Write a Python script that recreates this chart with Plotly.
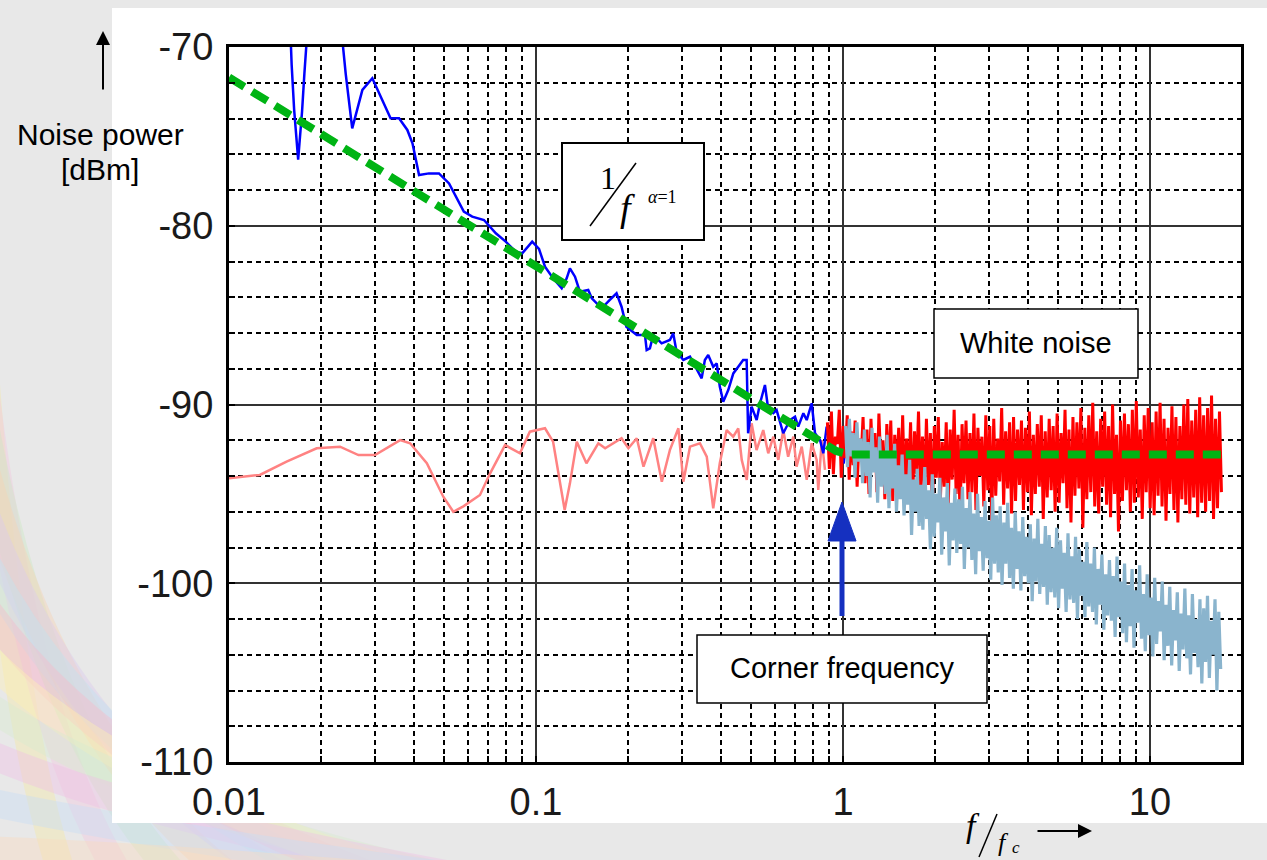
import numpy as np
import plotly.graph_objects as go

# ---------------- data ----------------
# 1/f noise measurement (blue)
blue_f = [0.0158, 0.0160, 0.0163, 0.0166, 0.0168, 0.0170, 0.0173, 0.0176, 0.0181, 0.0200, 0.0225,
          0.0234, 0.0240, 0.0252, 0.0272, 0.0293, 0.0316, 0.0336, 0.0358, 0.0381, 0.0396, 0.0416,
          0.0448, 0.0483, 0.0521, 0.0548, 0.0582, 0.0620, 0.0677, 0.0740, 0.0797, 0.0859, 0.0902,
          0.0972, 0.1023, 0.107, 0.1137, 0.1213, 0.1259, 0.129, 0.134, 0.139, 0.148, 0.152, 0.1636,
          0.174, 0.183, 0.190, 0.197, 0.213, 0.2265, 0.2294, 0.235, 0.241, 0.2566, 0.273, 0.280,
          0.287, 0.302, 0.3175, 0.3337, 0.3465, 0.355, 0.364, 0.378, 0.388, 0.397, 0.4074, 0.423,
          0.4394, 0.456, 0.473, 0.4856, 0.491, 0.504, 0.5234, 0.537, 0.557, 0.5714, 0.593, 0.608,
          0.639, 0.672, 0.698, 0.715, 0.743, 0.762, 0.791, 0.811, 0.842, 0.863, 0.885, 0.918,
          0.965, 0.991, 1.005, 1.015]
blue_db = [-68.5, -71.0, -73.5, -75.0, -76.3, -75.2, -73.6, -71.5, -68.5, -66.0, -67.0,
           -69.6, -71.5, -74.55, -72.4, -71.75, -72.96, -73.99, -73.99, -74.64, -75.39, -77.16,
           -77.07, -77.07, -77.63, -78.37, -79.21, -79.49, -79.68, -80.42, -80.89, -81.45, -81.54,
           -80.89, -81.3, -82.29, -82.94, -83.5, -82.94, -82.38, -82.85, -83.69, -83.59, -84.06, -84.62,
           -84.15, -83.78, -84.53, -85.65, -86.11, -86.11, -86.95, -86.86, -86.11, -86.58, -86.39, -86.02,
           -87.05, -87.51, -87.33, -88.07, -88.54, -87.51, -87.23, -87.89, -87.70, -89.0, -89.84, -89.19,
           -88.26, -87.89, -87.51, -87.51, -91.61, -90.12, -90.87, -89.93, -88.91, -90.31, -90.49, -90.31,
           -91.61, -90.87, -90.68, -91.24, -90.49, -90.87, -89.93, -91.61, -91.99, -92.73, -91.24, -92.73,
           -91.8, -91.61, -93.3, -92.7]

# low-frequency part of the white-noise trace (pink)
pink_f = [0.0100, 0.0126, 0.0154, 0.0193, 0.0230, 0.0264, 0.0299, 0.0361, 0.0389, 0.0441, 0.0499,
          0.0538, 0.0580, 0.0657, 0.0709, 0.0793, 0.0887, 0.0955, 0.107, 0.1137, 0.124, 0.129,
          0.1358, 0.146, 0.1596, 0.168, 0.190, 0.200, 0.213, 0.224, 0.241, 0.257, 0.273, 0.291,
          0.302, 0.3175, 0.342, 0.360, 0.378, 0.397, 0.418, 0.439, 0.456, 0.468, 0.486, 0.504,
          0.523, 0.550, 0.571, 0.593, 0.616, 0.639, 0.663, 0.689, 0.706, 0.734, 0.762, 0.791,
          0.821, 0.831, 0.853, 0.874]
pink_db = [-94.13, -93.94, -93.2, -92.45, -92.36, -92.83, -92.83, -91.99, -92.17, -93.29, -95.16,
           -96.0, -95.7, -95.06, -93.85, -92.27, -92.73, -91.52, -91.33, -92.08, -95.9, -94.41,
           -92.08, -93.29, -92.17, -92.45, -91.89, -92.45, -91.89, -93.48, -91.89, -94.32, -92.55, -91.33,
           -94.32, -92.36, -92.17, -92.92, -95.81, -93.29, -91.43, -91.8, -91.33, -93.1, -94.22, -91.05,
           -92.55, -91.43, -92.73, -91.8, -93.1, -91.43, -92.92, -91.8, -93.48, -92.36, -94.22, -92.17,
           -93.1, -94.78, -91.99, -93.66]

# white noise (red), from f = 0.89 to 17.1 (log-spaced samples)
red_f_start, red_f_end = 0.89, 17.1
red_db = [-91.0, -93.6, -90.4, -93.9, -91.8, -92.2, -90.3, -94.1, -91.2, -93.0,
          -90.6, -94.2, -91.5, -93.4, -90.9, -94.6, -91.9, -93.1, -90.7, -94.4,
          -91.4, -95.0, -90.8, -93.7, -91.6, -94.9, -90.5, -93.5, -92.0, -95.3,
          -91.1, -94.0, -90.9, -95.4, -91.7, -93.8, -91.3, -94.7, -90.6, -95.1,
          -91.9, -94.3, -91.0, -95.6, -91.5, -93.9, -90.4, -94.8, -91.8, -95.2,
          -90.8, -94.5, -91.6, -96.0, -91.2, -94.1, -90.7, -95.5, -92.1, -94.6,
          -91.0, -95.8, -91.4, -94.2, -90.3, -95.0, -91.7, -96.3, -91.1, -94.4,
          -90.9, -95.3, -91.6, -94.9, -90.5, -95.9, -91.3, -94.0, -91.8, -95.7,
          -90.6, -94.8, -91.2, -96.5, -90.8, -95.1, -91.9, -94.3, -90.2, -95.6,
          -91.5, -94.7, -91.0, -96.1, -90.7, -95.4, -91.4, -94.5, -90.9, -95.9,
          -91.3, -94.9, -90.4, -96.2, -91.7, -95.0, -91.1, -94.6, -90.6, -96.4,
          -91.5, -95.2, -90.8, -94.8, -91.2, -96.0, -90.5, -95.5, -91.6, -94.4,
          -90.3, -95.8, -91.4, -96.6, -90.7, -95.1, -91.0, -94.7, -90.2, -96.9,
          -91.3, -95.3, -90.6, -94.9, -89.9, -95.7, -91.5, -96.1, -90.8, -94.6,
          -90.4, -95.6, -91.2, -96.3, -90.0, -95.0, -91.7, -97.1, -90.9, -95.4,
          -90.5, -94.8, -91.1, -96.0, -90.3, -95.5, -89.8, -95.2, -91.4, -96.4,
          -90.6, -94.9, -90.2, -95.8, -91.0, -96.2, -90.4, -95.1, -89.9, -95.7,
          -90.8, -96.5, -91.3, -95.0, -90.1, -95.9, -90.7, -96.6, -91.2, -95.3,
          -90.0, -95.6, -89.7, -96.1, -90.9, -95.2, -90.3, -96.3, -89.6, -95.5,
          -90.6, -96.0, -90.2, -95.4, -89.5, -96.4, -90.8, -95.8, -90.4, -94.9]

# filtered noise (light blue), from f = 1.02 to 17.0 (log-spaced samples)
lb_f_start, lb_f_end = 1.02, 17.0
lb_db = [-91.2, -93.5, -90.8, -92.9, -91.6, -94.1, -91.0, -93.2, -91.9, -94.4,
         -91.4, -94.0, -92.1, -95.2, -91.3, -93.8, -92.4, -95.5, -91.8, -94.6,
         -92.6, -95.0, -91.7, -95.8, -92.9, -94.7, -92.2, -96.0, -93.4, -95.3,
         -92.8, -96.2, -93.9, -95.6, -93.1, -97.3, -94.2, -96.0, -93.6, -96.8,
         -94.5, -97.0, -93.5, -96.4, -94.8, -98.1, -93.9, -97.4, -95.0, -96.6,
         -94.1, -98.4, -95.2, -97.1, -94.4, -99.0, -95.5, -97.6, -94.7, -98.3,
         -95.3, -97.8, -94.6, -99.2, -95.8, -98.0, -94.9, -98.7, -96.1, -99.5,
         -95.0, -98.2, -96.3, -99.3, -95.4, -98.6, -96.5, -99.8, -95.2, -98.9,
         -96.2, -99.4, -95.7, -100.1, -96.6, -98.9, -95.5, -99.7, -96.9, -100.3,
         -96.0, -99.2, -97.1, -100.4, -96.3, -99.6, -97.4, -100.0, -96.7, -101.0,
         -97.5, -99.9, -96.4, -100.6, -97.8, -100.2, -96.8, -101.2, -97.3, -100.5,
         -98.0, -100.8, -96.9, -101.4, -97.6, -100.3, -98.3, -101.6, -97.2, -100.9,
         -98.5, -101.1, -97.4, -102.0, -98.1, -100.7, -98.8, -101.9, -97.7, -101.3,
         -98.9, -101.6, -98.0, -102.3, -99.2, -101.2, -98.4, -102.6, -99.5, -101.8,
         -98.7, -102.1, -99.6, -103.0, -98.5, -101.9, -99.9, -102.8, -98.9, -103.3,
         -100.1, -102.4, -99.2, -103.6, -100.4, -102.2, -99.0, -103.1, -100.6, -103.8,
         -99.5, -102.9, -100.8, -104.1, -99.7, -103.4, -101.0, -102.7, -99.9, -104.3,
         -101.2, -103.5, -100.2, -104.6, -101.5, -103.2, -100.5, -104.9, -101.7, -103.7,
         -100.3, -104.2, -101.8, -105.1, -100.6, -103.9, -102.0, -104.7, -100.9, -105.6,
         -101.4, -104.4, -100.7, -105.3, -102.1, -104.0, -100.9, -106.0, -101.6, -104.8]

# model: 1/f slope + white floor (green dashed)
model_f = [0.01, 0.03, 0.1, 0.3, 0.6, 0.8, 0.95, 1.05, 18.2]
model_db = [-71.7, -76.7, -82.3, -87.3, -90.5, -91.8, -92.6, -92.8, -92.8]

# axis ticks
x_ticks = [0.01, 0.1, 1, 10]
x_ticktext = ["0.01", "0.1", "1", "10"]
y_ticks = [-110, -100, -90, -80, -70]
y_ticktext = ["-110", "-100", "-90", "-80", "-70"]

# ---------------- layout geometry (pixels) ----------------
W, H = 1267, 860
PL, PR, PT, PB = 229, 1241, 47, 762


def X(px):
    return (px - PL) / (PR - PL)


def Y(py):
    return (PB - py) / (PB - PT)


red_f = np.geomspace(red_f_start, red_f_end, len(red_db))
lb_f = np.geomspace(lb_f_start, lb_f_end, len(lb_db))

fig = go.Figure()
fig.add_trace(go.Scatter(x=pink_f, y=pink_db, mode="lines",
                         line=dict(color="#ff8282", width=2.5), hoverinfo="skip"))
fig.add_trace(go.Scatter(x=blue_f, y=blue_db, mode="lines",
                         line=dict(color="#0000ff", width=2.5), hoverinfo="skip"))
fig.add_trace(go.Scatter(x=red_f, y=red_db, mode="lines",
                         line=dict(color="#ff0000", width=3), hoverinfo="skip"))
fig.add_trace(go.Scatter(x=lb_f, y=lb_db, mode="lines",
                         line=dict(color="#8ab4cd", width=3.2), hoverinfo="skip"))
fig.add_trace(go.Scatter(x=model_f, y=model_db, mode="lines",
                         line=dict(color="#00b414", width=8, dash="18px,9px"), hoverinfo="skip"))

shapes = []
# pastel swirl in the background (bottom-left)
swirl_cols = ["#f4eaa6", "#f3c8df", "#cde8c4", "#f7d4b4", "#dccbee", "#c2e4ef",
              "#f6bccb", "#fff1b4", "#d8ecd0", "#f0c2e6", "#c9def5", "#f9dcc0"]
for k, c in enumerate(swirl_cols):
    y0 = 300 + 50 * k
    x1 = 80 + 72 * k
    cx, cy = 10 + 20 * k, 770 + 8 * k
    path = "M %.4f %.4f Q %.4f %.4f %.4f %.4f" % (X(-20), Y(y0), X(cx), Y(cy), X(x1), Y(920))
    shapes.append(dict(type="path", xref="paper", yref="paper", path=path,
                       line=dict(color=c, width=28), opacity=0.42, layer="below"))
# white slide panel
shapes.append(dict(type="rect", xref="paper", yref="paper", x0=X(112), x1=X(1270),
                   y0=Y(8), y1=Y(823), fillcolor="white", line=dict(width=0), layer="below"))
# 1/f box
shapes.append(dict(type="rect", xref="paper", yref="paper", x0=X(562), x1=X(704),
                   y0=Y(143), y1=Y(240), fillcolor="white", line=dict(color="black", width=2),
                   layer="above"))
shapes.append(dict(type="line", xref="paper", yref="paper", x0=X(590), y0=Y(226),
                   x1=X(636), y1=Y(163), line=dict(color="black", width=1.5), layer="above"))
# White noise box
shapes.append(dict(type="rect", xref="paper", yref="paper", x0=X(934), x1=X(1138),
                   y0=Y(309), y1=Y(378), fillcolor="white", line=dict(color="black", width=1.5),
                   layer="above"))
# Corner frequency box
shapes.append(dict(type="rect", xref="paper", yref="paper", x0=X(697), x1=X(987),
                   y0=Y(635), y1=Y(703), fillcolor="white", line=dict(color="black", width=1.5),
                   layer="above"))
# corner frequency arrow
shapes.append(dict(type="line", xref="paper", yref="paper", x0=X(842), y0=Y(616),
                   x1=X(842), y1=Y(535), line=dict(color="#1530c0", width=5), layer="above"))
shapes.append(dict(type="path", xref="paper", yref="paper",
                   path="M %.4f %.4f L %.4f %.4f L %.4f %.4f Z" % (X(828), Y(541), X(856), Y(541), X(842), Y(502)),
                   fillcolor="#1530c0", line=dict(color="#1530c0", width=1), layer="above"))
# slash of f/fc
shapes.append(dict(type="line", xref="paper", yref="paper", x0=X(979), y0=Y(857),
                   x1=X(997), y1=Y(814), line=dict(color="black", width=1.5), layer="above"))

sans = "Liberation Sans, Arial, sans-serif"
serif = "Liberation Serif, Times New Roman, serif"
ann = []


def txt(px, py, text, size, family=sans):
    ann.append(dict(xref="paper", yref="paper", x=X(px), y=Y(py), text=text, showarrow=False,
                    xanchor="center", yanchor="middle",
                    font=dict(family=family, size=size, color="black")))


txt(100, 134, "Noise power", 30)
txt(100, 169, "[dBm]", 30)
txt(1036, 343, "White noise", 29)
txt(842, 668, "Corner frequency", 29)
txt(608, 178, "1", 32, serif)
txt(627, 208, "<i>f</i>", 38, serif)
txt(662, 197, "<i>α</i>=1", 18, serif)
txt(973, 825, "<i>f</i>", 34, serif)
txt(1003, 842, "<i>f</i>", 26, serif)
txt(1016, 847, "<i>c</i>", 17, serif)
# arrows
ann.append(dict(xref="paper", yref="paper", x=X(103), y=Y(31), ax=0, ay=60, text="",
                showarrow=True, arrowhead=2, arrowsize=1.4, arrowwidth=2, arrowcolor="black"))
ann.append(dict(xref="paper", yref="paper", x=X(1092), y=Y(831), ax=-56, ay=0, text="",
                showarrow=True, arrowhead=2, arrowsize=1.4, arrowwidth=2, arrowcolor="black"))

x_minor = [m * 10.0 ** e for e in range(-2, 2) for m in range(2, 10)]

fig.update_layout(
    width=W, height=H,
    margin=dict(l=PL, r=W - PR, t=PT, b=H - PB),
    paper_bgcolor="#e8e8e8", plot_bgcolor="white",
    showlegend=False,
    shapes=shapes, annotations=ann,
    font=dict(family=sans, color="black"),
    xaxis=dict(type="log", range=[-2, np.log10(19.8)],
               tickmode="array", tickvals=x_ticks, ticktext=x_ticktext,
               tickfont=dict(size=38, family=sans, color="#1a1a1a"),
               showgrid=True, gridcolor="#333", gridwidth=1.5,
               ticks="inside", ticklen=6, tickwidth=2, tickcolor="black",
               ticklabelstandoff=4,
               showline=True, linecolor="black", linewidth=3, mirror=True,
               minor=dict(tickmode="array", tickvals=x_minor, showgrid=True,
                          gridcolor="black", gridwidth=1.5, griddash="5px,4px",
                          ticks="inside", ticklen=6, tickwidth=2, tickcolor="black"),
               zeroline=False),
    yaxis=dict(range=[-110, -70],
               tickmode="array", tickvals=y_ticks, ticktext=y_ticktext,
               tickfont=dict(size=38, family=sans, color="#1a1a1a"),
               showgrid=True, gridcolor="#333", gridwidth=1.5,
               ticks="inside", ticklen=6, tickwidth=2, tickcolor="black",
               ticklabelstandoff=5,
               showline=True, linecolor="black", linewidth=3, mirror=True,
               minor=dict(tickmode="linear", tick0=-110, dtick=2, showgrid=True,
                          gridcolor="black", gridwidth=1.5, griddash="5px,4px",
                          ticks="inside", ticklen=6, tickwidth=2, tickcolor="black"),
               zeroline=False),
)

fig.write_html("out.html", config={"displayModeBar": False},
               post_script="document.body.style.margin='0';document.body.style.overflow='hidden';")
